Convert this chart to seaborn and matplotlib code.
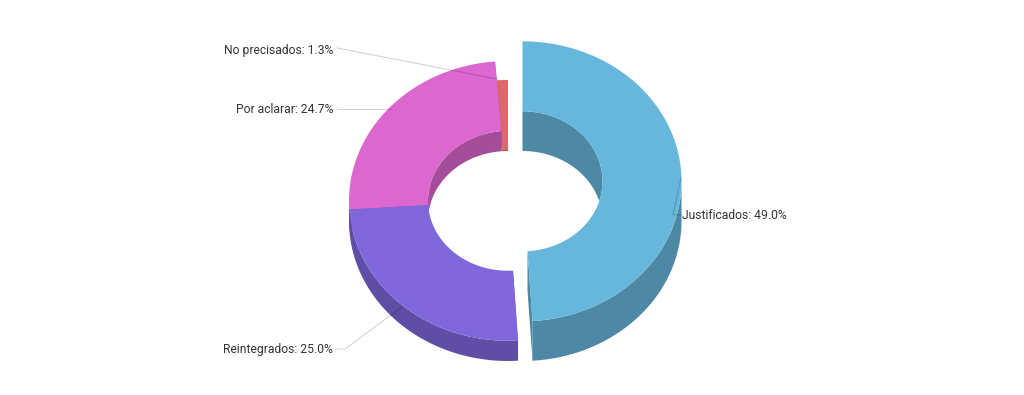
import numpy as np
import matplotlib
matplotlib.use('Agg')
import matplotlib.pyplot as plt
import seaborn as sns

categories = ['Justificados', 'Reintegrados', 'Por aclarar', 'No precisados']
values = [49.0, 25.0, 24.7, 1.3]
colors = ['#67b7dc', '#8067dc', '#dc67ce', '#dc6967']
exploded = [True, False, False, False]

sns.set_theme(style='white')
plt.rcParams['font.family'] = ['Roboto', 'DejaVu Sans']

fig, ax = plt.subplots(figsize=(10.24, 3.95), dpi=100)
ax.set_position([0, 0, 1, 1])
ax.set_xlim(0, 1024)
ax.set_ylim(395, 0)
ax.axis('off')

# pie geometry in pixels, the height of a slice follows its value
base_x, base_y = 508, 221
rx, ry = 159, 140
hole_x, hole_y = 80, 70
height_per_pct = 0.81
explode = 14.5


def arc(cx, cy, a, b, w, h):
    t = np.radians(np.linspace(a, b, 120))
    return cx + w * np.sin(t), cy - h * np.cos(t)


def band(cx, cy, a, b, w, h, d):
    # area between an arc and the same arc moved down by d
    x, y = arc(cx, cy, a, b, w, h)
    return np.r_[x, x[::-1]], np.r_[y, y[::-1] + d]


def draw_slice(start, end, value, color, out):
    dark = tuple(c * 0.75 for c in matplotlib.colors.to_rgb(color))
    d = value * height_per_pct
    cx = base_x + (explode if out else 0)
    cy = base_y - d
    kw = dict(lw=0, zorder=2)

    # faces at the two cuts
    for a in (start, end):
        xo, yo = arc(cx, cy, a, a, rx, ry)
        xi, yi = arc(cx, cy, a, a, hole_x, hole_y)
        ax.fill([xi[0], xo[0], xo[0], xi[0]], [yi[0], yo[0], yo[0] + d, yi[0] + d],
                color=dark, **kw)

    # inner wall, the part seen through the hole
    meet = np.degrees(np.arccos(-d / (2 * hole_y)))
    for a0, a1 in [(start, min(end, meet)), (max(start, 360 - meet), end)]:
        if a0 < a1:
            x, y = band(cx, cy, a0, a1, hole_x, hole_y, d)
            ax.fill(x, y, color=dark, **kw)

    # outer wall, only the front half
    a0, a1 = max(start, 90), min(end, 270)
    if a0 < a1:
        x, y = band(cx, cy, a0, a1, rx, ry, d)
        ax.fill(x, y, color=dark, **kw)

    # top face
    xo, yo = arc(cx, cy, start, end, rx, ry)
    xi, yi = arc(cx, cy, end, start, hole_x, hole_y)
    ax.fill(np.r_[xo, xi], np.r_[yo, yi], color=color, lw=0, zorder=2)


# slices start at 12 o'clock, go clockwise
ends = np.cumsum(values) * 3.6
starts = np.r_[0, ends[:-1]]
for i in [3, 2, 1, 0]:
    draw_slice(starts[i], ends[i], values[i], colors[i], exploded[i])

# leader lines
line_kw = dict(color='black', alpha=0.17, lw=0.8, zorder=3)
ax.plot([337, 497], [48, 79], **line_kw)
ax.plot([337, 391], [109, 109], **line_kw)
ax.plot([337, 345, 402], [349, 349, 307], **line_kw)
ax.plot([681, 673, 682], [178, 215, 215], **line_kw)

text_kw = dict(fontsize=8.75, color='#333333', va='center', zorder=4)
ax.text(333, 50.5, f'{categories[3]}: {values[3]}%', ha='right', **text_kw)
ax.text(333, 109.5, f'{categories[2]}: {values[2]}%', ha='right', **text_kw)
ax.text(333, 349.5, f'{categories[1]}: {values[1]}%', ha='right', **text_kw)
ax.text(682, 215.5, f'{categories[0]}: {values[0]}%', ha='left', **text_kw)

fig.savefig('out.png', dpi=100)
